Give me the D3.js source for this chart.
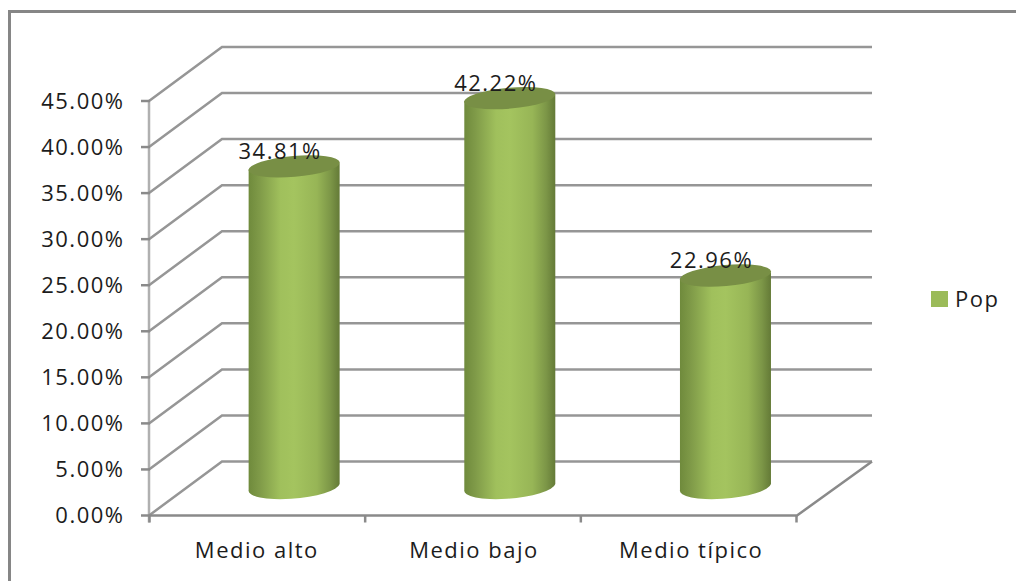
<!DOCTYPE html>
<html><head><meta charset="utf-8">
<script src="https://cdn.jsdelivr.net/npm/d3@7"></script>
<style>html,body{margin:0;background:#fff}svg{display:block}text{font-family:"Open Sans","Noto Sans",sans-serif;fill:#1c1c1c;letter-spacing:1.5px}</style>
</head><body><svg id="c" width="1016" height="581"></svg>
<script>
const categories=["Medio alto","Medio bajo","Medio típico"];
const values=[34.81,42.22,22.96];
const labels=["34.81%","42.22%","22.96%"];
const ticks=[0,5,10,15,20,25,30,35,40,45];
const seriesName="Pop";
const W=1016,H=581,svg=d3.select("#c");
const x=d3.scaleBand().domain(categories).range([150,797]).paddingInner(0).paddingOuter(0);
const y=d3.scaleLinear().domain([0,45]).range([515.5,101]);
const dx=73,dy=-54,grid="#969696",axisC="#8a8a8a",fs=22;
svg.append("path").attr("d",d3.line()([[9.5,581],[9.5,11.5],[1016,11.5]])).attr("fill","none").attr("stroke","#868686").attr("stroke-width",3);
const defs=svg.append("defs");
const g=defs.append("linearGradient").attr("id","cyl");
[[0,"#6f8a3c"],[.12,"#7f9a48"],[.35,"#a0c05c"],[.5,"#a4c45f"],[.75,"#97b556"],[.9,"#7c9647"],[1,"#647a37"]].forEach(s=>g.append("stop").attr("offset",s[0]).attr("stop-color",s[1]));
const grp=svg.append("g");
grp.append("line").attr("x1",149).attr("x2",149).attr("y1",y(45)).attr("y2",y(0)+7).attr("stroke","#b0b0b0").attr("stroke-width",2.5);
ticks.forEach(t=>{const yy=y(t);
 grp.append("path").attr("d",d3.line()([[149,yy],[149+dx,yy+dy],[872,yy+dy]])).attr("fill","none").attr("stroke",grid).attr("stroke-width",2.5);
 grp.append("line").attr("x1",141).attr("x2",150).attr("y1",yy).attr("y2",yy).attr("stroke",axisC).attr("stroke-width",2.5);
 svg.append("text").attr("x",124.5).attr("y",yy).attr("dy","0.36em").attr("text-anchor","end").attr("font-size",fs).text(t.toFixed(2)+"%");
});
grp.append("path").attr("d",d3.line()([[149,y(0)],[797,y(0)],[872,y(0)+dy]])).attr("fill","none").attr("stroke",axisC).attr("stroke-width",2.5);
x.domain().concat("end").forEach((c,i)=>{const xx=149.5+i*x.step();
 grp.append("line").attr("x1",xx).attr("x2",xx).attr("y1",y(0)).attr("y2",y(0)+7).attr("stroke",axisC).attr("stroke-width",2.5);});
const rx=45.5,ry=10.5,tilt=-5;
categories.forEach((c,i)=>{
 const cx=x(c)+x.step()/2+36.3,base=y(0)-28.5,top=y(values[i])-28.5;
 const g2=svg.append("g");
 g2.append("path").attr("d",`M${cx-rx},${top+3} L${cx-rx},${base+3} A${rx},${ry+1} ${tilt} 0 0 ${cx+rx},${base-3} L${cx+rx},${top-3} Z`).attr("fill","url(#cyl)");
 g2.append("ellipse").attr("cx",cx).attr("cy",top).attr("rx",rx+.3).attr("ry",ry).attr("transform",`rotate(${tilt} ${cx} ${top})`).attr("fill","#788f45");
 svg.append("text").attr("x",cx-14).attr("y",top-15).attr("dy","0.36em").attr("text-anchor","middle").attr("font-size",fs).text(labels[i]);
 svg.append("text").attr("x",x(c)+x.step()/2+i*1.5-1).attr("y",550).attr("dy","0.36em").attr("text-anchor","middle").attr("font-size",fs).text(c);
});
svg.append("rect").attr("x",931).attr("y",291).attr("width",17).attr("height",16).attr("fill","#9bbb59");
svg.append("text").attr("x",955).attr("y",299).attr("dy","0.36em").attr("font-size",fs).text(seriesName);
</script></body></html>
